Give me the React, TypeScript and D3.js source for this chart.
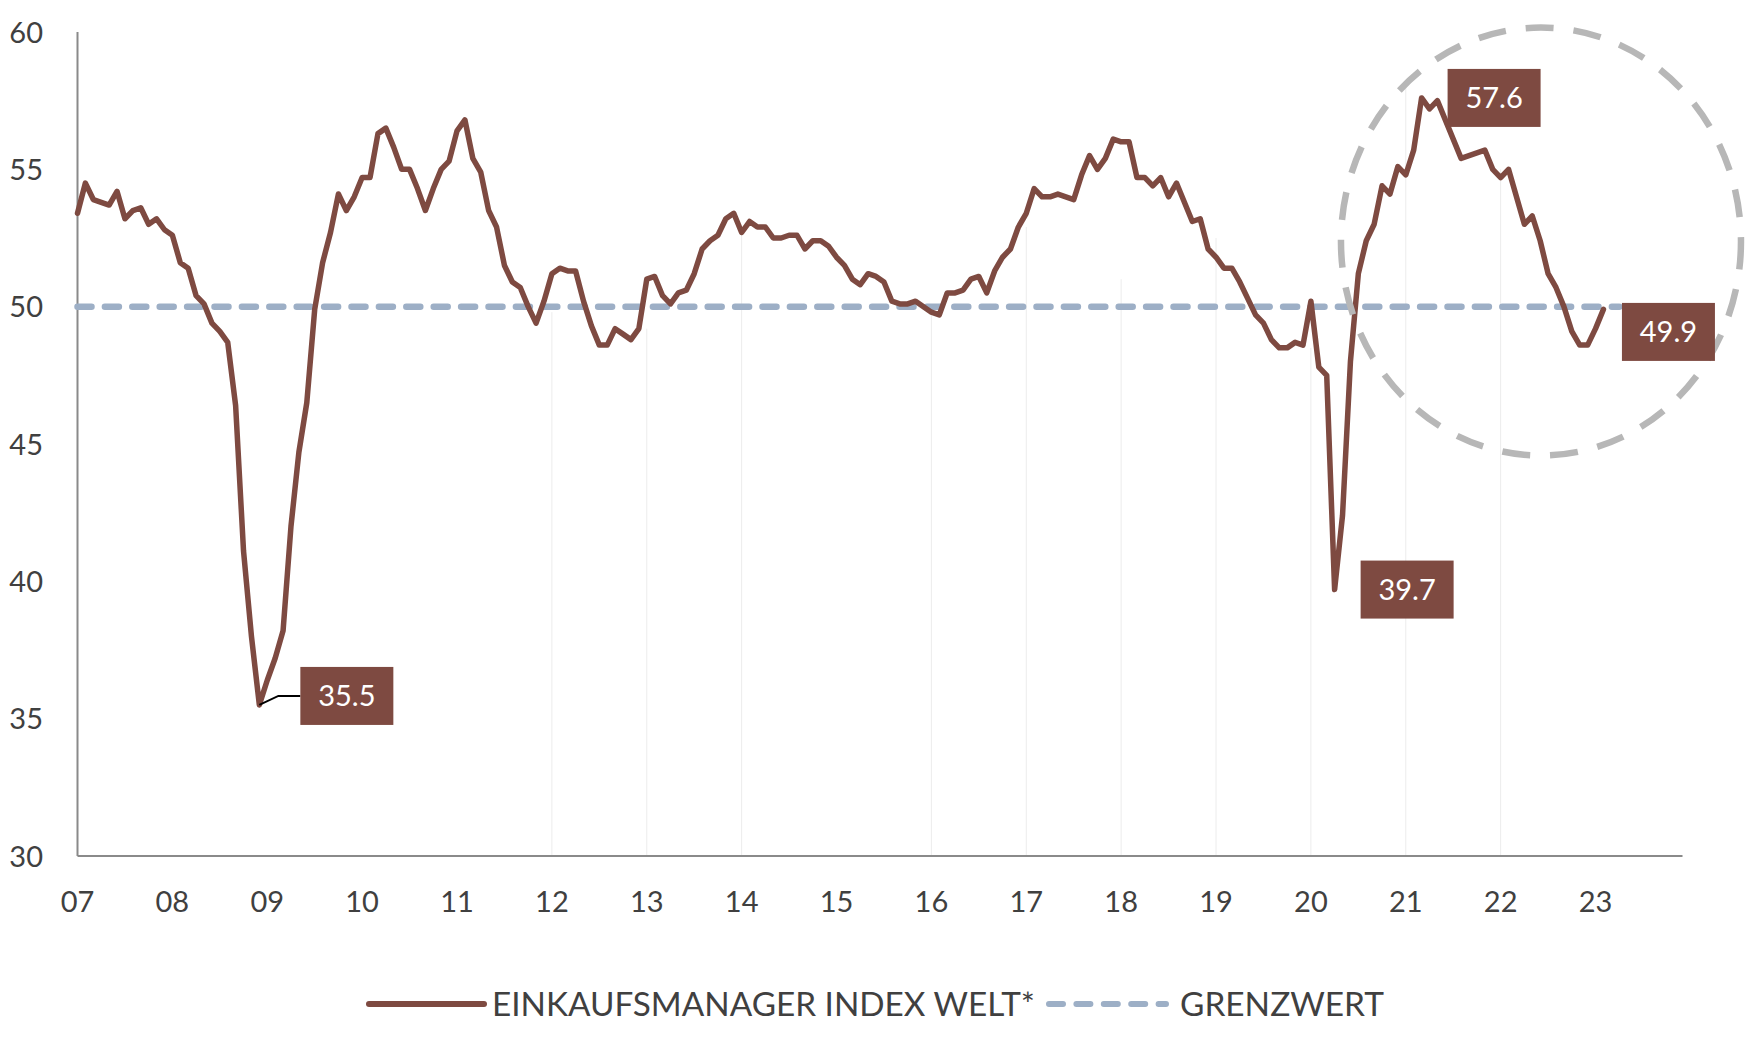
import React from 'react';
import * as d3 from 'd3';

// ---------- data ----------
const YEAR_LABELS = ['07', '08', '09', '10', '11', '12', '13', '14', '15', '16', '17', '18', '19', '20', '21', '22', '23'];
const Y_TICKS = [30, 35, 40, 45, 50, 55, 60];
const SERIES_NAME = 'EINKAUFSMANAGER INDEX WELT*';
const THRESHOLD_NAME = 'GRENZWERT';
const THRESHOLD = 50;

// monthly values, Jan 2007 .. Feb 2023
const PMI = [
  53.4, 54.5, 53.9, 53.8, 53.7, 54.2, 53.2, 53.5, 53.6, 53.0, 53.2, 52.8,
  52.6, 51.6, 51.4, 50.4, 50.1, 49.4, 49.1, 48.7, 46.4, 41.1, 38.0, 35.5,
  36.4, 37.2, 38.2, 42.0, 44.7, 46.5, 49.9, 51.6, 52.7, 54.1, 53.5, 54.0,
  54.7, 54.7, 56.3, 56.5, 55.8, 55.0, 55.0, 54.3, 53.5, 54.3, 55.0, 55.3,
  56.4, 56.8, 55.4, 54.9, 53.5, 52.9, 51.5, 50.9, 50.7, 50.0, 49.4, 50.2,
  51.2, 51.4, 51.3, 51.3, 50.2, 49.3, 48.6, 48.6, 49.2, 49.0, 48.8, 49.2,
  51.0, 51.1, 50.4, 50.1, 50.5, 50.6, 51.2, 52.1, 52.4, 52.6, 53.2, 53.4,
  52.7, 53.1, 52.9, 52.9, 52.5, 52.5, 52.6, 52.6, 52.1, 52.4, 52.4, 52.2,
  51.8, 51.5, 51.0, 50.8, 51.2, 51.1, 50.9, 50.2, 50.1, 50.1, 50.2, 50.0,
  49.8, 49.7, 50.5, 50.5, 50.6, 51.0, 51.1, 50.5, 51.3, 51.8, 52.1, 52.9,
  53.4, 54.3, 54.0, 54.0, 54.1, 54.0, 53.9, 54.8, 55.5, 55.0, 55.4, 56.1,
  56.0, 56.0, 54.7, 54.7, 54.4, 54.7, 54.0, 54.5, 53.8, 53.1, 53.2, 52.1,
  51.8, 51.4, 51.4, 50.9, 50.3, 49.7, 49.4, 48.8, 48.5, 48.5, 48.7, 48.6,
  50.2, 47.8, 47.5, 39.7, 42.4, 48.0, 51.2, 52.4, 53.0, 54.4, 54.1, 55.1,
  54.8, 55.7, 57.6, 57.2, 57.5, 56.8, 56.1, 55.4, 55.5, 55.6, 55.7, 55.0,
  54.7, 55.0, 54.0, 53.0, 53.3, 52.4, 51.2, 50.7, 50.0, 49.1, 48.6, 48.6,
  49.2, 49.9,
];

// highlighted values (month index, value)
const ANNOTATION_INDEX = [23, 159, 170, 193];
const ANNOTATION_VALUE = [35.5, 39.7, 57.6, 49.9];

// faint ghost grid lines (year label, top value)
const GRID_YEARS = ['12', '13', '14', '16', '17', '18', '19', '20', '21', '22'];
const GRID_TOPS = [49.8, 49.2, 52.7, 49.9, 52.9, 51.0, 52.5, 48.5, 58.0, 55.0];

// ---------- layout / style ----------
const W = 1754;
const H = 1044;
const FONT = 'Lato, "Open Sans", "Noto Sans", sans-serif';
const TEXT = '#404040';
const BROWN = '#7E4A41';
const BLUE = '#9DAFC6';
const AXIS = '#8a8a8a';

// label placement (offset of box from its point, px)
const LABEL_LAYOUT = [
  { dx: 41, dy: -9, leader: true },
  { dx: 26, dy: 0, leader: false },
  { dx: 26, dy: 0, leader: false },
  { dx: 18.5, dy: 22.5, leader: false },
];

export default function App() {
  const x = d3.scaleLinear().domain([0, 203]).range([77.5, 1682.5]);
  const y = d3.scaleLinear().domain([30, 60]).range([856, 32]);

  const line = d3
    .line<number>()
    .x((_, i) => x(i))
    .y((d) => y(d));

  const yearIndex = (label: string) => YEAR_LABELS.indexOf(label) * 12;

  const boxW = 93;
  const boxH = 58;

  return (
    <svg
      width={W}
      height={H}
      viewBox={`0 0 ${W} ${H}`}
      style={{ position: 'absolute', left: 0, top: 0, display: 'block', background: '#fff' }}
      fontFamily={FONT}
    >
      <rect x={0} y={0} width={W} height={H} fill="#fff" />

      {/* ghost grid lines */}
      {GRID_YEARS.map((g, k) => (
        <line
          key={g}
          x1={x(yearIndex(g))}
          x2={x(yearIndex(g))}
          y1={y(GRID_TOPS[k])}
          y2={y(30)}
          stroke="#ececec"
          strokeWidth={1}
        />
      ))}

      {/* axes */}
      <line x1={x(0)} x2={x(0)} y1={y(60)} y2={y(30)} stroke={AXIS} strokeWidth={2} />
      <line x1={x(0)} x2={x(203)} y1={y(30)} y2={y(30)} stroke={AXIS} strokeWidth={2} />

      {Y_TICKS.map((t) => (
        <text key={t} x={43} y={y(t) + 10.5} textAnchor="end" fontSize={29} fill={TEXT}>
          {t}
        </text>
      ))}
      {YEAR_LABELS.map((lab, k) => (
        <text key={lab} x={x(k * 12)} y={912} textAnchor="middle" fontSize={29} fill={TEXT}>
          {lab}
        </text>
      ))}

      {/* threshold */}
      <line
        x1={x(0)}
        x2={x(195)}
        y1={y(THRESHOLD)}
        y2={y(THRESHOLD)}
        stroke={BLUE}
        strokeWidth={6.5}
        strokeLinecap="round"
        strokeDasharray="14 13.4"
      />

      {/* series */}
      <path
        d={line(PMI) || ''}
        fill="none"
        stroke={BROWN}
        strokeWidth={5.5}
        strokeLinejoin="round"
        strokeLinecap="round"
      />

      {/* highlight ellipse */}
      <ellipse
        cx={x(185.1)}
        cy={y(52.37)}
        rx={200}
        ry={214}
        fill="none"
        stroke="#b7b7b7"
        strokeWidth={6.5}
        strokeDasharray="28 20"
      />

      {/* data labels */}
      {ANNOTATION_INDEX.map((idx, k) => {
        const px = x(idx);
        const py = y(ANNOTATION_VALUE[k]);
        const L = LABEL_LAYOUT[k];
        const bx = px + L.dx;
        const cy = py + L.dy;
        return (
          <g key={idx}>
            {L.leader && (
              <polyline
                points={`${px},${py} ${px + 19},${cy} ${bx},${cy}`}
                fill="none"
                stroke="#000"
                strokeWidth={2}
              />
            )}
            <rect x={bx} y={cy - boxH / 2} width={boxW} height={boxH} fill={BROWN} />
            <text x={bx + boxW / 2} y={cy + 10.5} textAnchor="middle" fontSize={29} fill="#fff">
              {ANNOTATION_VALUE[k].toFixed(1)}
            </text>
          </g>
        );
      })}

      {/* legend */}
      <line x1={369} x2={484} y1={1004} y2={1004} stroke={BROWN} strokeWidth={6} strokeLinecap="round" />
      <text
        x={492}
        y={1015.5}
        fontSize={32}
        fill={TEXT}
        textLength={543}
        lengthAdjust="spacingAndGlyphs"
      >
        {SERIES_NAME}
      </text>
      <line
        x1={1049}
        x2={1166}
        y1={1004}
        y2={1004}
        stroke={BLUE}
        strokeWidth={6}
        strokeLinecap="round"
        strokeDasharray="14 13.4"
      />
      <text
        x={1180}
        y={1015.5}
        fontSize={32}
        fill={TEXT}
        textLength={204}
        lengthAdjust="spacingAndGlyphs"
      >
        {THRESHOLD_NAME}
      </text>
    </svg>
  );
}
